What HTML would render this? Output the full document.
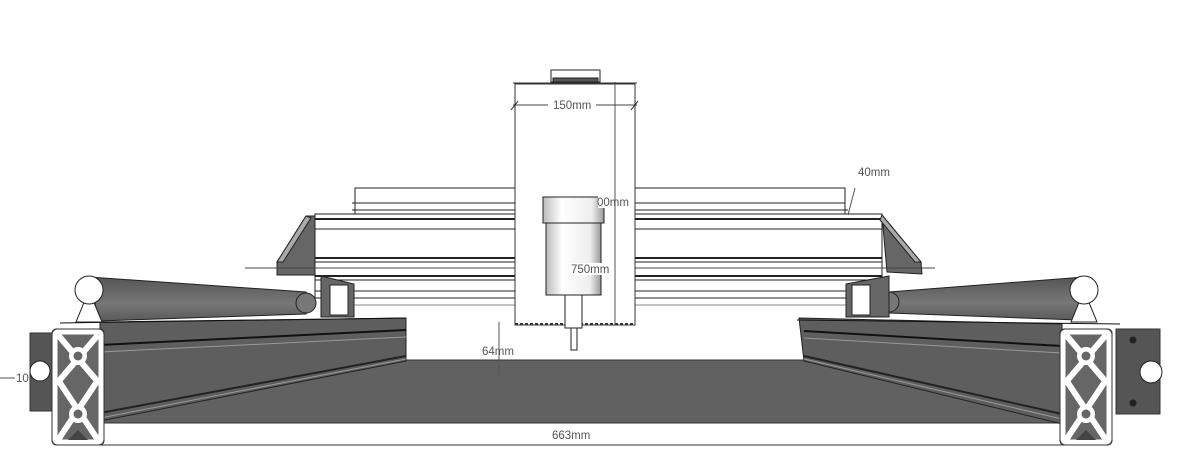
<!DOCTYPE html>
<html><head><style>
html,body{margin:0;padding:0;background:#fff;}
svg{display:block;}
text{font-family:"Liberation Sans",sans-serif;font-size:11.5px;fill:#555;}
</style></head><body>
<svg width="1185" height="461" viewBox="0 0 1185 461" xmlns="http://www.w3.org/2000/svg">
<defs>
<linearGradient id="cyl" x1="0" x2="1" y1="0" y2="0">
<stop offset="0" stop-color="#bbb"/><stop offset="0.3" stop-color="#fff"/><stop offset="0.8" stop-color="#eee"/><stop offset="1" stop-color="#999"/>
</linearGradient>
<linearGradient id="rod" x1="0" x2="0" y1="0" y2="1">
<stop offset="0" stop-color="#555"/><stop offset="0.6" stop-color="#777"/><stop offset="1" stop-color="#5a5a5a"/>
</linearGradient>
</defs>
<g stroke="#222" stroke-width="1" fill="none">
<rect x="355" y="188" width="490" height="26" fill="#fff"/>
<line x1="352" y1="203" x2="845" y2="203"/>
<line x1="352" y1="210" x2="848" y2="210"/>
<rect x="315" y="214" width="567" height="84" fill="#fff"/>
<line x1="315" y1="219" x2="882" y2="219" stroke-width="2"/>
<line x1="315" y1="229" x2="882" y2="229"/>
<line x1="315" y1="258" x2="882" y2="258" stroke-width="2"/>
<line x1="315" y1="262" x2="882" y2="262"/>
<line x1="315" y1="276" x2="882" y2="276" stroke-width="2"/>
<line x1="315" y1="280" x2="882" y2="280"/>
<line x1="315" y1="291" x2="882" y2="291"/>
<line x1="330" y1="305" x2="860" y2="305" stroke="#888"/>
<polygon points="306,216 315,216 315,275 277,275 277,262" fill="#666"/>
<polygon points="306,216 277,262 283,262 311,218" fill="#aaa"/>
<polygon points="882,215 921,262 922,274 887,272" fill="#666"/>
<polygon points="882,215 921,262 915,262 880,220" fill="#aaa"/>
<line x1="245" y1="268" x2="935" y2="268" stroke="#444"/>
<rect x="95" y="360" width="985" height="63" fill="#616161" stroke="#333"/>
<rect x="100" y="423" width="975" height="22" fill="#fff" stroke="#333"/>
<polygon points="100,322 406,318 406,361 100,421" fill="#5e5e5e"/>
<line x1="100" y1="345" x2="406" y2="330" stroke="#111" stroke-width="2"/>
<line x1="100" y1="352" x2="406" y2="337" stroke="#999"/>
<line x1="100" y1="413" x2="406" y2="356" stroke="#222" stroke-width="2"/>
<line x1="100" y1="418" x2="406" y2="359" stroke="#999"/>
<line x1="60" y1="323" x2="406" y2="318" stroke="#111"/>
<polygon points="799,318 1062,324 1062,424 804,361" fill="#5e5e5e"/>
<line x1="804" y1="331" x2="1062" y2="346" stroke="#111" stroke-width="2"/>
<line x1="804" y1="338" x2="1062" y2="353" stroke="#999"/>
<line x1="804" y1="356" x2="1062" y2="414" stroke="#222" stroke-width="2"/>
<line x1="804" y1="359" x2="1062" y2="419" stroke="#999"/>
<line x1="797" y1="320" x2="1120" y2="324" stroke="#111"/>
<polygon points="89,277 306,292 312,300 306,314 99,321" fill="url(#rod)"/>
<circle cx="306" cy="303" r="10" fill="#777"/>
<polygon points="85,300 93,300 102,322 76,322" fill="#fff"/>
<circle cx="89" cy="290" r="14" fill="#fff"/>
<polygon points="889,292 1084,277 1084,303 1078,320 889,313" fill="url(#rod)"/>
<circle cx="889" cy="302" r="10" fill="#777"/>
<polygon points="1080,300 1088,300 1097,322 1071,322" fill="#fff"/>
<circle cx="1084" cy="290" r="14" fill="#fff"/>
<polygon points="321,276 354,284 354,317 321,317" fill="#666"/>
<rect x="330" y="285" width="18" height="30" fill="#fff"/>
<polygon points="846,284 889,276 889,317 846,317" fill="#666"/>
<rect x="852" y="285" width="18" height="30" fill="#fff"/>
<rect x="30" y="333" width="25" height="78" fill="#555" stroke="#333"/>
<circle cx="40" cy="371" r="10" fill="#fff"/>
<line x1="0" y1="378" x2="15" y2="378" stroke="#555"/>
<rect x="1116" y="329" width="44" height="85" fill="#555" stroke="#333"/>
<circle cx="1133" cy="340" r="3" fill="#222"/>
<circle cx="1133" cy="403" r="3" fill="#222"/>
<circle cx="1151" cy="372" r="11" fill="#fff"/>
<g id="prof">
<rect x="52" y="329" width="52" height="116" rx="4" fill="#666" stroke="#333"/>
<rect x="55" y="332" width="46" height="110" rx="3" fill="none" stroke="#fff" stroke-width="5"/>
<g stroke="#fff" stroke-width="6">
<line x1="58" y1="335" x2="98" y2="382"/><line x1="98" y1="335" x2="58" y2="382"/>
<line x1="58" y1="380" x2="98" y2="440"/><line x1="98" y1="380" x2="58" y2="440"/>
</g>
<circle cx="78" cy="356" r="9" fill="#fff" stroke="none"/><circle cx="78" cy="356" r="4.5" fill="#666" stroke="none"/>
<circle cx="78" cy="414" r="9" fill="#fff" stroke="none"/><circle cx="78" cy="414" r="4.5" fill="#666" stroke="none"/>
<polygon points="68,440 88,440 78,430" fill="#444" stroke="none"/>
</g>
<use href="#prof" transform="translate(1008,0)"/>
<rect x="515" y="84" width="120" height="241" fill="#fff" stroke="#333"/>
<line x1="515" y1="324" x2="635" y2="324" stroke="#333" stroke-width="2" stroke-dasharray="3,2"/>
<line x1="615" y1="82" x2="615" y2="325" stroke="#555"/>
<line x1="513" y1="83" x2="637" y2="83" stroke="#333"/>
<rect x="551" y="70" width="49" height="12" fill="#fff"/>
<rect x="553" y="78" width="45" height="4" fill="#555"/>
<line x1="513" y1="105" x2="637" y2="105" stroke="#444"/>
<line x1="511" y1="110" x2="518" y2="101"/><line x1="631" y1="110" x2="638" y2="101"/>
<rect x="543" y="197" width="61" height="26" fill="url(#cyl)"/>
<rect x="546" y="223" width="55" height="72" fill="url(#cyl)"/>
<rect x="565" y="295" width="17" height="33" fill="#fff"/>
<rect x="571" y="328" width="6" height="22" fill="#fff"/>
<line x1="499" y1="322" x2="499" y2="376" stroke="#555"/>
<line x1="855" y1="188" x2="848" y2="215" stroke="#555"/>
</g>
<rect x="548" y="99" width="48" height="12" fill="#fff"/>
<text x="553" y="109">150mm</text>
<rect x="598" y="196" width="16" height="12" fill="#fff"/>
<text x="597" y="206">00mm</text>
<rect x="570" y="263" width="42" height="12" fill="#fff"/>
<text x="571" y="273">750mm</text>
<text x="858" y="176">40mm</text>
<text x="482" y="355">64mm</text>
<text x="16" y="382">10</text>
<rect x="550" y="429" width="42" height="12" fill="#fff"/>
<text x="552" y="439">663mm</text>
</svg>
</body></html>
